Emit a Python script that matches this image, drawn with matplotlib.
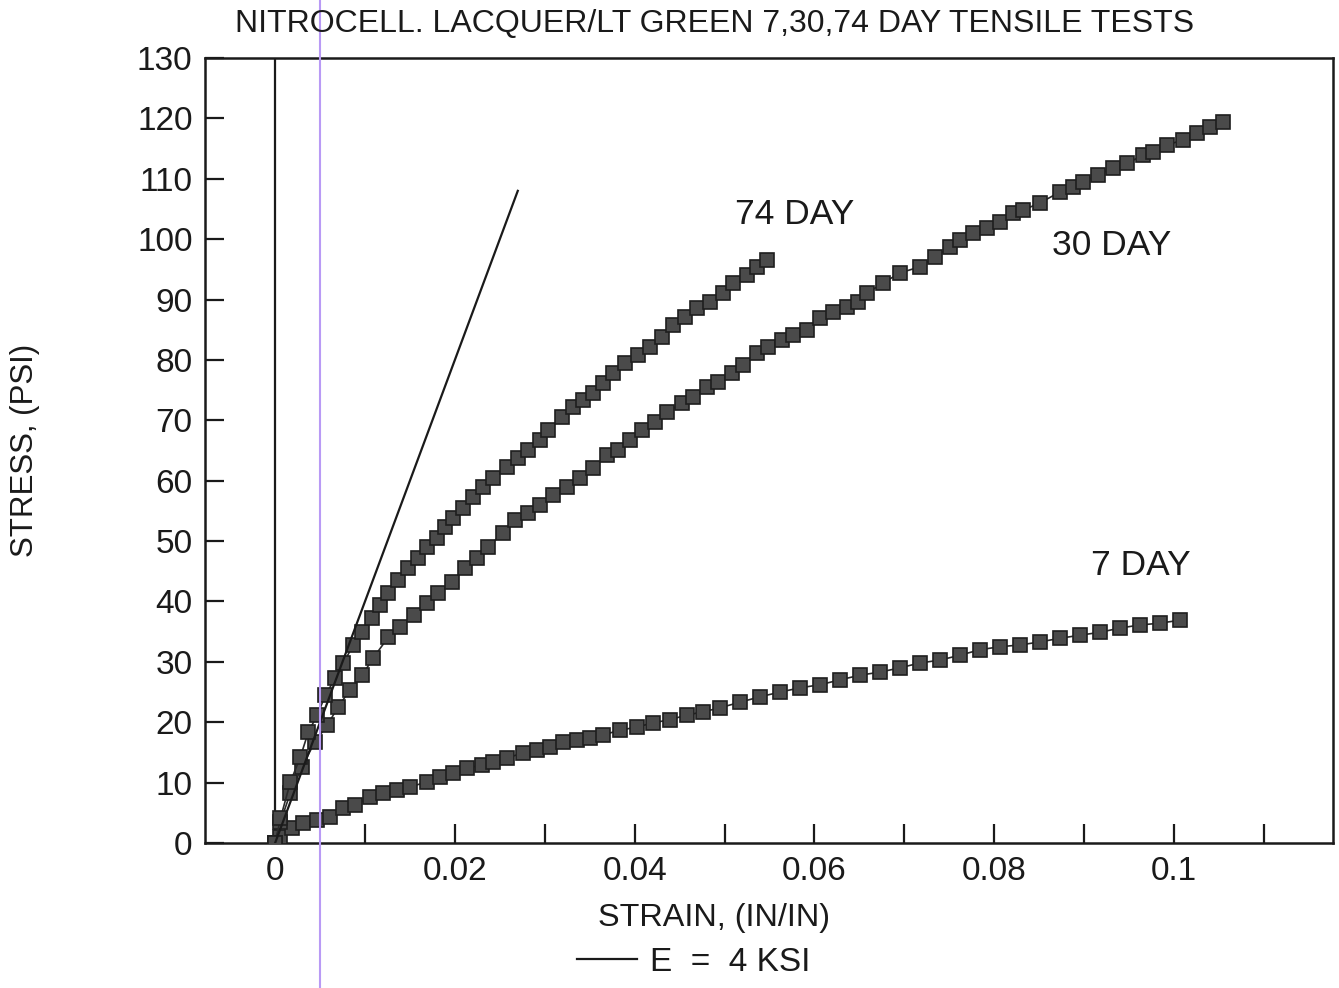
import matplotlib
matplotlib.use("Agg")
from matplotlib import pyplot as plt
from matplotlib.lines import Line2D

plt.rcParams['font.family'] = ['Liberation Sans', 'DejaVu Sans']

# strain (in/in) and stress (psi)
strain_74 = [0, 0.0006, 0.0017, 0.0028, 0.0037, 0.0047, 0.0056, 0.0067, 0.0076, 0.0087,
             0.0097, 0.0108, 0.0117, 0.0126, 0.0137, 0.0148, 0.0159, 0.0169, 0.0180, 0.0189,
             0.0198, 0.0209, 0.0220, 0.0231, 0.0242, 0.0258, 0.0270, 0.0281, 0.0295, 0.0304,
             0.0319, 0.0331, 0.0343, 0.0354, 0.0365, 0.0376, 0.0389, 0.0404, 0.0417, 0.0430,
             0.0443, 0.0456, 0.0469, 0.0484, 0.0498, 0.0509, 0.0525, 0.0536, 0.0547]
stress_74 = [0, 4.1, 10.1, 14.2, 18.4, 21.2, 24.5, 27.3, 29.8, 32.8,
             34.9, 37.3, 39.4, 41.4, 43.5, 45.5, 47.2, 49.0, 50.5, 52.3,
             53.8, 55.5, 57.3, 58.9, 60.4, 62.3, 63.7, 65.1, 66.7, 68.4,
             70.5, 72.2, 73.3, 74.5, 76.2, 77.8, 79.5, 80.8, 82.1, 83.8,
             85.8, 87.1, 88.6, 89.6, 91.1, 92.7, 94.0, 95.4, 96.5]

strain_30 = [0, 0.0006, 0.0017, 0.0030, 0.0044, 0.0058, 0.0070, 0.0083, 0.0097, 0.0109,
             0.0126, 0.0139, 0.0154, 0.0169, 0.0181, 0.0197, 0.0211, 0.0225, 0.0237, 0.0253,
             0.0267, 0.0281, 0.0295, 0.0309, 0.0325, 0.0339, 0.0354, 0.0369, 0.0382, 0.0395,
             0.0408, 0.0423, 0.0436, 0.0453, 0.0465, 0.0481, 0.0493, 0.0508, 0.0521, 0.0536,
             0.0548, 0.0564, 0.0576, 0.0592, 0.0606, 0.0621, 0.0636, 0.0649, 0.0659, 0.0676,
             0.0695, 0.0717, 0.0734, 0.0751, 0.0762, 0.0776, 0.0792, 0.0806, 0.0821, 0.0832,
             0.0851, 0.0873, 0.0888, 0.0899, 0.0915, 0.0932, 0.0948, 0.0966, 0.0977, 0.0992,
             0.1010, 0.1026, 0.1040, 0.1055]
stress_30 = [0, 3.5, 8.3, 12.6, 16.7, 19.5, 22.5, 25.3, 27.8, 30.6,
             34.1, 35.8, 37.7, 39.7, 41.4, 43.2, 45.5, 47.2, 49.0, 51.3,
             53.5, 54.6, 56.0, 57.6, 58.9, 60.4, 62.1, 64.2, 65.1, 66.7,
             68.4, 69.7, 71.4, 72.8, 73.8, 75.5, 76.3, 77.8, 79.1, 81.1,
             82.1, 83.3, 84.1, 84.9, 86.9, 87.9, 88.7, 89.6, 91.1, 92.7,
             94.4, 95.4, 97.0, 98.7, 99.8, 101.0, 101.8, 102.8, 104.3, 104.8,
             106.0, 107.8, 108.6, 109.4, 110.6, 111.8, 112.6, 113.9, 114.4, 115.6,
             116.4, 117.5, 118.5, 119.4]

strain_7 = [0, 0.0006, 0.0019, 0.0031, 0.0047, 0.0061, 0.0075, 0.0089, 0.0106, 0.0120,
            0.0136, 0.0150, 0.0169, 0.0184, 0.0198, 0.0214, 0.0230, 0.0242, 0.0258, 0.0276,
            0.0291, 0.0306, 0.0320, 0.0336, 0.0350, 0.0365, 0.0384, 0.0403, 0.0420, 0.0439,
            0.0458, 0.0476, 0.0495, 0.0517, 0.0539, 0.0562, 0.0584, 0.0606, 0.0628, 0.0651,
            0.0673, 0.0695, 0.0717, 0.0740, 0.0762, 0.0784, 0.0806, 0.0829, 0.0851, 0.0873,
            0.0895, 0.0918, 0.0940, 0.0962, 0.0984, 0.1007]
stress_7 = [0, 1.0, 2.5, 3.3, 3.8, 4.3, 5.8, 6.3, 7.6, 8.3,
            8.8, 9.3, 10.1, 10.9, 11.6, 12.4, 12.9, 13.4, 14.1, 14.9,
            15.4, 15.9, 16.7, 17.1, 17.4, 17.9, 18.7, 19.2, 19.9, 20.4,
            21.2, 21.7, 22.4, 23.3, 24.2, 25.0, 25.7, 26.2, 27.0, 27.8,
            28.3, 29.0, 29.8, 30.3, 31.1, 32.0, 32.5, 32.8, 33.3, 33.9,
            34.4, 34.9, 35.6, 36.1, 36.4, 36.9]

# modulus reference line, E = 4 ksi
e_strain = [0, 0.027]
e_stress = [0, 108]

x_ticks = [0, 0.01, 0.02, 0.03, 0.04, 0.05, 0.06, 0.07, 0.08, 0.09, 0.1, 0.11]
x_tick_labels = ['0', '', '0.02', '', '0.04', '', '0.06', '', '0.08', '', '0.1', '']
y_ticks = [0, 10, 20, 30, 40, 50, 60, 70, 80, 90, 100, 110, 120, 130]

W, H = 1339, 988
fig = plt.figure(figsize=(W / 100, H / 100), dpi=100)
ax = fig.add_axes([205 / W, 1 - 843 / H, (1333 - 205) / W, (843 - 58) / H])

ink = '#1a1a1a'
mk = dict(marker='s', markersize=10, markerfacecolor='#4a4a4a',
          markeredgecolor='#1e1e1e', markeredgewidth=1.2, color='#2a2a2a', lw=1.2)

ax.axvline(0, color=ink, lw=1.6, zorder=1)
ax.plot(strain_7, stress_7, **mk, zorder=3)
ax.plot(strain_30, stress_30, **mk, zorder=3)
ax.plot(strain_74, stress_74, **mk, zorder=3)
e_line, = ax.plot(e_strain, e_stress, color=ink, lw=1.6, zorder=4, label='E  =  4 KSI')

ax.set_xlim(-0.0078, 0.1177)
ax.set_ylim(0, 130)
ax.set_xticks(x_ticks)
ax.set_xticklabels(x_tick_labels)
ax.set_yticks(y_ticks)
ax.tick_params(direction='in', length=14, width=1.6, color=ink, labelsize=24,
               labelcolor=ink)
ax.tick_params(axis='x', pad=9)
ax.tick_params(axis='y', pad=9)
for s in ax.spines.values():
    s.set_linewidth(1.8)
    s.set_color(ink)

ax.text(0.0578, 104, '74 DAY', fontsize=25.5, color=ink, ha='center', va='center')
ax.text(0.0931, 99, '30 DAY', fontsize=25.5, color=ink, ha='center', va='center')
ax.text(0.0963, 46, '7 DAY', fontsize=25.5, color=ink, ha='center', va='center')

fig.text(715 / W, 1 - 24 / H, 'NITROCELL. LACQUER/LT GREEN 7,30,74 DAY TENSILE TESTS',
         fontsize=23, color=ink, ha='center', va='center')
fig.text(714 / W, 1 - 918 / H, 'STRAIN, (IN/IN)', fontsize=23.3, color=ink,
         ha='center', va='center')
fig.text(25 / W, 1 - 450 / H, 'STRESS, (PSI)', fontsize=22.5, color=ink,
         ha='center', va='center', rotation=90)

fig.legend(handles=[e_line], loc='center', bbox_to_anchor=(694 / W, 1 - 962 / H),
           frameon=False, fontsize=24, handlelength=1.8, handletextpad=0.4,
           labelcolor=ink)

# scanner streak on the original page
fig.add_artist(Line2D([320 / W, 320 / W], [0, 1], transform=fig.transFigure,
                      color='#b99af5', lw=1.5))

fig.savefig('out.png', dpi=100)
